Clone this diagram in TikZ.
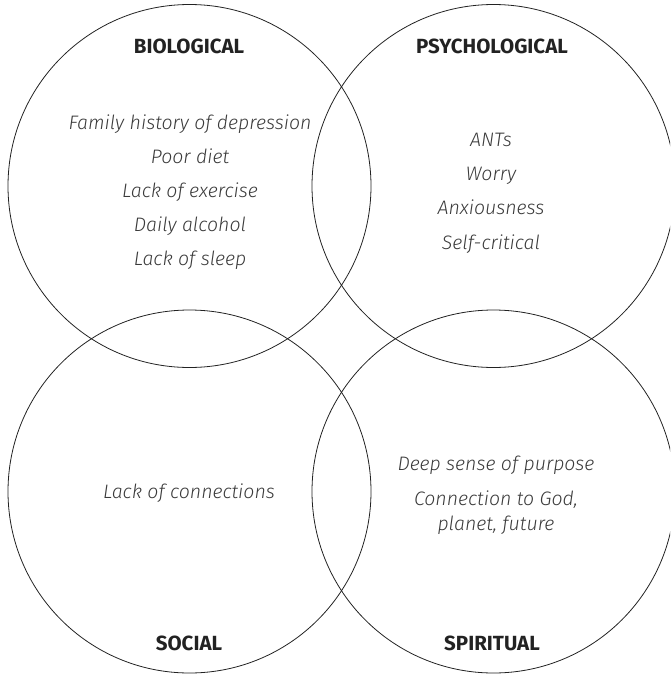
\documentclass[tikz,border=0pt]{standalone}
\usepackage{fontspec}
\setmainfont{Fira Sans}
\newfontfamily\itemfont{Fira Sans Light}
\newfontfamily\titlefont{Fira Sans}
\definecolor{ink}{HTML}{222222}
\definecolor{itemgray}{HTML}{3A3A3A}
\begin{document}
\begin{tikzpicture}[x=1pt,y=-1pt,
  ring/.style={draw=ink,line width=0.8pt},
  title/.style={font=\titlefont\bfseries\fontsize{20.5}{20.5}\selectfont,text=ink,inner sep=0pt,anchor=base},
  item/.style={font=\itemfont\itshape\fontsize{19.5}{19.5}\selectfont,text=itemgray,inner sep=0pt,anchor=base}]
\useasboundingbox (0,0) rectangle (670,675);
\begin{scope}
\clip (0,0) rectangle (670,675);
\draw[ring] (189.5,186) circle (181.5);
\draw[ring] (493.5,186) circle (181.5);
\draw[ring] (189.5,491.5) circle (181.5);
\draw[ring] (493.5,491.5) circle (181.5);
\end{scope}
\node[title] (bio) at (189,53) {BIOLOGICAL};
\node[title] (psy) at (492,53) {PSYCHOLOGICAL};
\node[title] (soc) at (189,650) {SOCIAL};
\node[title] (spi) at (492,650) {SPIRITUAL};
\node[item] (b1) at (190,129) {Family history of depression};
\node[item] (b2) at (190,163) {Poor diet};
\node[item] (b3) at (190,197) {Lack of exercise};
\node[item] (b4) at (190,231) {Daily alcohol};
\node[item] (b5) at (190,265) {Lack of sleep};
\node[item] (p1) at (491,146) {ANTs};
\node[item] (p2) at (491,180) {Worry};
\node[item] (p3) at (491,214) {Anxiousness};
\node[item] (p4) at (491,249) {Self-critical};
\node[item] (s1) at (189,498) {Lack of connections};
\node[item] (r1) at (496,470) {Deep sense of purpose};
\node[item] (r2) at (496,505) {Connection to God,};
\node[item] (r3) at (496,530) {planet, future};
\end{tikzpicture}
\end{document}
